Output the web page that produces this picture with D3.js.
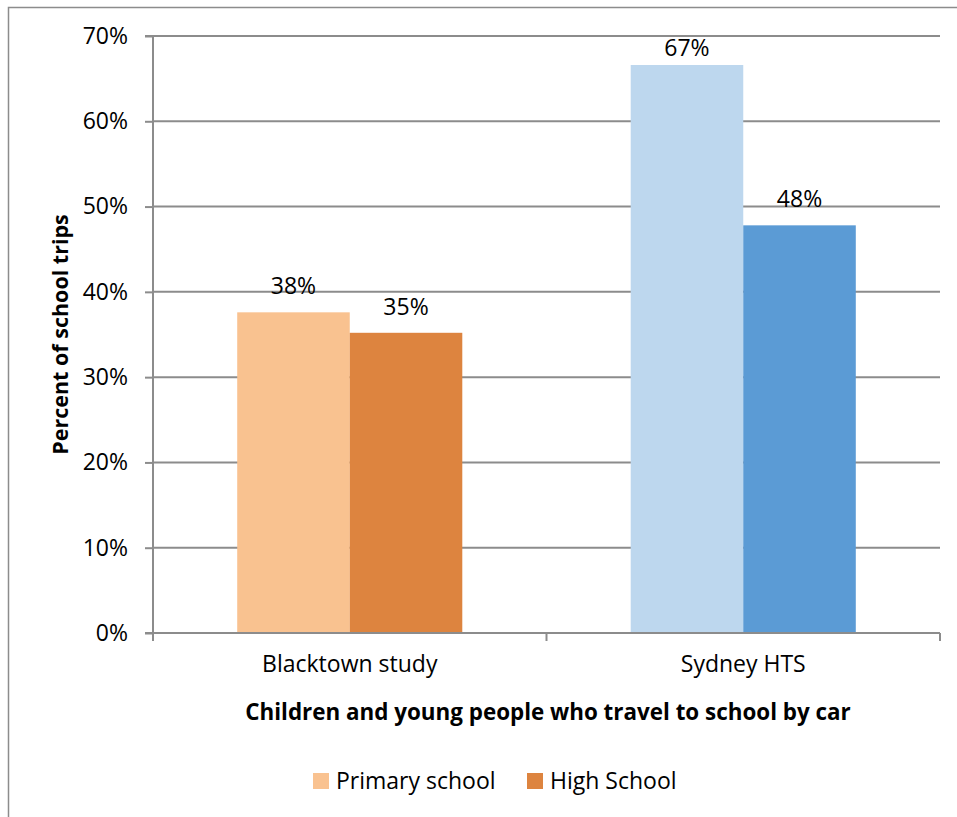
<!DOCTYPE html>
<html>
<head>
<meta charset="utf-8">
<script src="https://cdn.jsdelivr.net/npm/d3@7"></script>
<style>
  html, body { margin: 0; padding: 0; background: #fff; }
  text { font-family: "Open Sans", "Noto Sans", sans-serif; fill: #000; }
</style>
</head>
<body>
<svg id="chart" width="957" height="817"></svg>
<script>
// Share of school trips made by car
const categories = ["Blacktown study", "Sydney HTS"];
const seriesNames = ["Primary school", "High School"];
const primaryValues = [37.6, 66.6];
const highValues = [35.2, 47.8];
const valueLabels = [["38%", "35%"], ["67%", "48%"]];
const yTicks = [0, 10, 20, 30, 40, 50, 60, 70];
const yTickLabels = ["0%", "10%", "20%", "30%", "40%", "50%", "60%", "70%"];
// colours per category: [primary, high]
const barColors = [["#F9C290", "#DD843F"], ["#BDD7EE", "#5B9BD5"]];

const svg = d3.select("#chart");
const grid = "#8c8c8c";
const fs = 23;

// outer frame
svg.append("rect")
  .attr("x", 8.5).attr("y", 7.5).attr("width", 1000).attr("height", 1000)
  .attr("fill", "none").attr("stroke", grid).attr("stroke-width", 1.5);

const plot = { left: 153, right: 940, top: 36, bottom: 633 };

const x = d3.scaleBand().domain(categories)
  .range([plot.left, plot.right]).paddingInner(0.428).paddingOuter(0.214);
const sub = d3.scaleBand().domain(seriesNames).range([0, x.bandwidth()]);
const y = d3.scaleLinear().domain([0, 70]).range([plot.bottom, plot.top]);

// horizontal gridlines
svg.append("g").selectAll("line").data(yTicks.filter(d => d > 0)).join("line")
  .attr("x1", plot.left).attr("x2", plot.right)
  .attr("y1", d => y(d)).attr("y2", d => y(d))
  .attr("stroke", grid).attr("stroke-width", 2);

// bars
const rows = categories.map((c, i) => ({
  cat: c, i,
  vals: [
    { s: seriesNames[0], v: primaryValues[i], lbl: valueLabels[i][0], col: barColors[i][0] },
    { s: seriesNames[1], v: highValues[i], lbl: valueLabels[i][1], col: barColors[i][1] }
  ]
}));

const groups = svg.append("g").selectAll("g").data(rows).join("g")
  .attr("transform", d => `translate(${x(d.cat)},0)`);

groups.selectAll("rect").data(d => d.vals).join("rect")
  .attr("x", d => sub(d.s)).attr("width", sub.bandwidth())
  .attr("y", d => y(d.v)).attr("height", d => y(0) - y(d.v))
  .attr("fill", d => d.col);

groups.selectAll("text").data(d => d.vals).join("text")
  .attr("x", d => sub(d.s) + sub.bandwidth() / 2)
  .attr("y", d => Math.max(y(d.v) - 18, plot.top + 20))
  .attr("text-anchor", "middle")
  .attr("font-size", fs)
  .text(d => d.lbl);

// y axis
const yAxis = d3.axisLeft(y).tickValues(yTicks)
  .tickFormat((d, i) => yTickLabels[i]).tickSize(8).tickPadding(17);
const gy = svg.append("g").attr("transform", `translate(${plot.left},0)`).call(yAxis);
gy.select(".domain").attr("stroke", grid).attr("stroke-width", 2).attr("d", `M-8,${plot.top}H0V${plot.bottom}`);
gy.selectAll(".tick line").attr("stroke", grid).attr("stroke-width", 2);
gy.selectAll(".tick text").attr("font-size", fs).attr("font-family", "Open Sans").attr("fill", "#000");

// x axis
const xAxis = d3.axisBottom(x).tickSize(0).tickPadding(23);
const gx = svg.append("g").attr("transform", `translate(0,${plot.bottom})`).call(xAxis);
gx.select(".domain").attr("stroke", grid).attr("stroke-width", 2).attr("d", `M${plot.left - 8},0H${plot.right}`);
gx.selectAll(".tick text").attr("font-size", fs).attr("font-family", "Open Sans").attr("fill", "#000");

// category boundary ticks on the x axis
const bounds = [plot.left, (plot.left + plot.right) / 2, plot.right];
svg.append("g").selectAll("line").data(bounds).join("line")
  .attr("x1", d => d).attr("x2", d => d)
  .attr("y1", plot.bottom).attr("y2", plot.bottom + 8)
  .attr("stroke", grid).attr("stroke-width", 2);

// axis titles
svg.append("text")
  .attr("transform", `translate(68,${(plot.top + plot.bottom) / 2}) rotate(-90)`)
  .attr("text-anchor", "middle").attr("font-size", 21.5).attr("font-weight", "bold")
  .text("Percent of school trips");

svg.append("text")
  .attr("x", 548).attr("y", 720)
  .attr("text-anchor", "middle").attr("font-size", 22.4).attr("font-weight", "bold")
  .text("Children and young people who travel to school by car");

// legend
const legend = svg.append("g").attr("transform", "translate(313,773)");
const legendItems = [
  { name: seriesNames[0], col: barColors[0][0], dx: 0 },
  { name: seriesNames[1], col: barColors[0][1], dx: 214 }
];
const li = legend.selectAll("g").data(legendItems).join("g")
  .attr("transform", d => `translate(${d.dx},0)`);
li.append("rect").attr("width", 16).attr("height", 16).attr("fill", d => d.col);
li.append("text").attr("x", 23).attr("y", 16).attr("font-size", fs).text(d => d.name);
</script>
</body>
</html>
